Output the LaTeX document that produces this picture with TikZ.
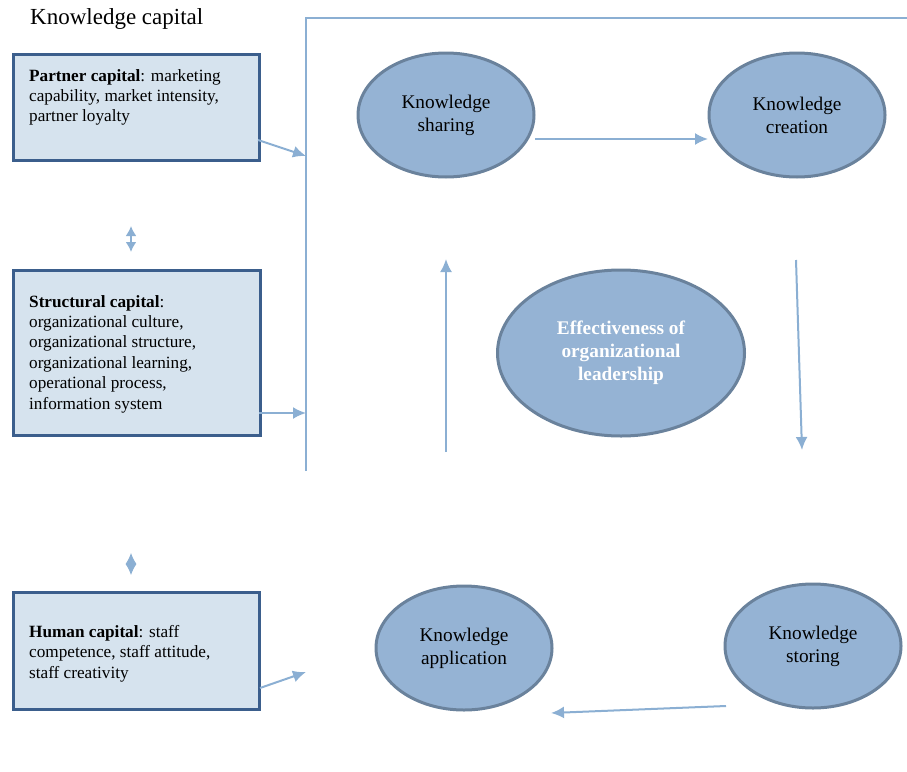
\documentclass[tikz,border=0pt]{standalone}
\usepackage{fontspec}
\setmainfont{Liberation Serif}
\usetikzlibrary{arrows.meta,shapes.geometric}
\definecolor{boxfill}{HTML}{D6E3EE}
\definecolor{boxline}{HTML}{3B5E8C}
\definecolor{ellfill}{HTML}{95B3D4}
\definecolor{ellline}{HTML}{6A829C}
\definecolor{arr}{HTML}{8BAFD3}
\tikzset{
  capbox/.style={draw=boxline, line width=3pt, fill=boxfill, rectangle, anchor=north west, inner sep=0pt},
  captext/.style={anchor=north west, align=left, inner sep=0pt, font=\fontsize{17.2}{20.4}\selectfont},
  kell/.style={ellipse, draw=ellline, line width=3pt, fill=ellfill, minimum width=176pt, minimum height=124pt, align=center, inner sep=0pt, font=\fontsize{19.3}{23}\selectfont},
  conn/.style={draw=arr, line width=2pt, -{Latex[length=13pt,width=12pt]}},
  bracket/.style={draw=arr, line width=1.3pt},
}
\begin{document}
\begin{tikzpicture}[x=1pt,y=-1pt]
\useasboundingbox (0,0) rectangle (907,771);
% title
\node[anchor=west, inner sep=0pt, font=\fontsize{23}{27}\selectfont] (title) at (30,19) {Knowledge capital};
% boxes
\node[capbox, minimum width=246pt, minimum height=106pt] (pbox) at (12,53) {};
\node[captext] (ptext) at (29,69) {\textbf{Partner capital}: marketing\\capability, market intensity,\\partner loyalty};
\node[capbox, minimum width=247pt, minimum height=165pt] (sbox) at (12,269) {};
\node[captext] (stext) at (29,295) {\textbf{Structural capital}:\\organizational culture,\\organizational structure,\\organizational learning,\\operational process,\\information system};
\node[capbox, minimum width=246pt, minimum height=117pt] (hbox) at (12,591) {};
\node[captext] (htext) at (29,625) {\textbf{Human capital}: staff\\competence, staff attitude,\\staff creativity};
% bracket
\coordinate (btop) at (306,18);
\coordinate (bbot) at (306,471);
\coordinate (bright) at (907,18);
\draw[bracket] (bbot) -- (btop) -- (bright);
% arrows from boxes
\coordinate (p1) at (258,140);
\coordinate (p2) at (306,156);
\coordinate (s1) at (259,413);
\coordinate (s2) at (306,413);
\coordinate (h1) at (260,688);
\coordinate (h2) at (306,672);
\draw[conn] (p1) -- (p2);
\draw[conn] (s1) -- (s2);
\draw[conn] (h1) -- (h2);
% between boxes
\coordinate (d1a) at (131,226);
\coordinate (d1b) at (131,252);
\draw[draw=arr, line width=2pt, {Latex[length=10pt,width=11pt]}-{Latex[length=10pt,width=11pt]}] (d1a) -- (d1b);
\coordinate (d2a) at (131,553);
\coordinate (d2b) at (131,575);
\draw[draw=arr, line width=1pt, {Latex[length=11pt,width=11pt]}-{Latex[length=11pt,width=11pt]}] (d2a) -- (d2b);
% ellipses
\node[kell] (share) at (446,115) {Knowledge\\sharing};
\node[kell] (create) at (797,115) {Knowledge\\creation};
\node[kell, minimum width=247pt, minimum height=166pt, text=white, font=\bfseries\fontsize{19.3}{23}\selectfont] (eff) at (621,353) {Effectiveness of\\organizational\\leadership};
\node[kell] (apply) at (464,648) {Knowledge\\application};
\node[kell] (store) at (813,646) {Knowledge\\storing};
% cycle arrows
\coordinate (a1) at (535,139);
\coordinate (a2) at (708,139);
\draw[conn] (a1) -- (a2);
\coordinate (b1) at (796,260);
\coordinate (b2) at (802,450);
\draw[conn] (b1) -- (b2);
\coordinate (c1) at (726,706);
\coordinate (c2) at (551,713);
\draw[conn] (c1) -- (c2);
\coordinate (e1) at (446,452);
\coordinate (e2) at (446,259);
\draw[conn] (e1) -- (e2);
\end{tikzpicture}
\end{document}
